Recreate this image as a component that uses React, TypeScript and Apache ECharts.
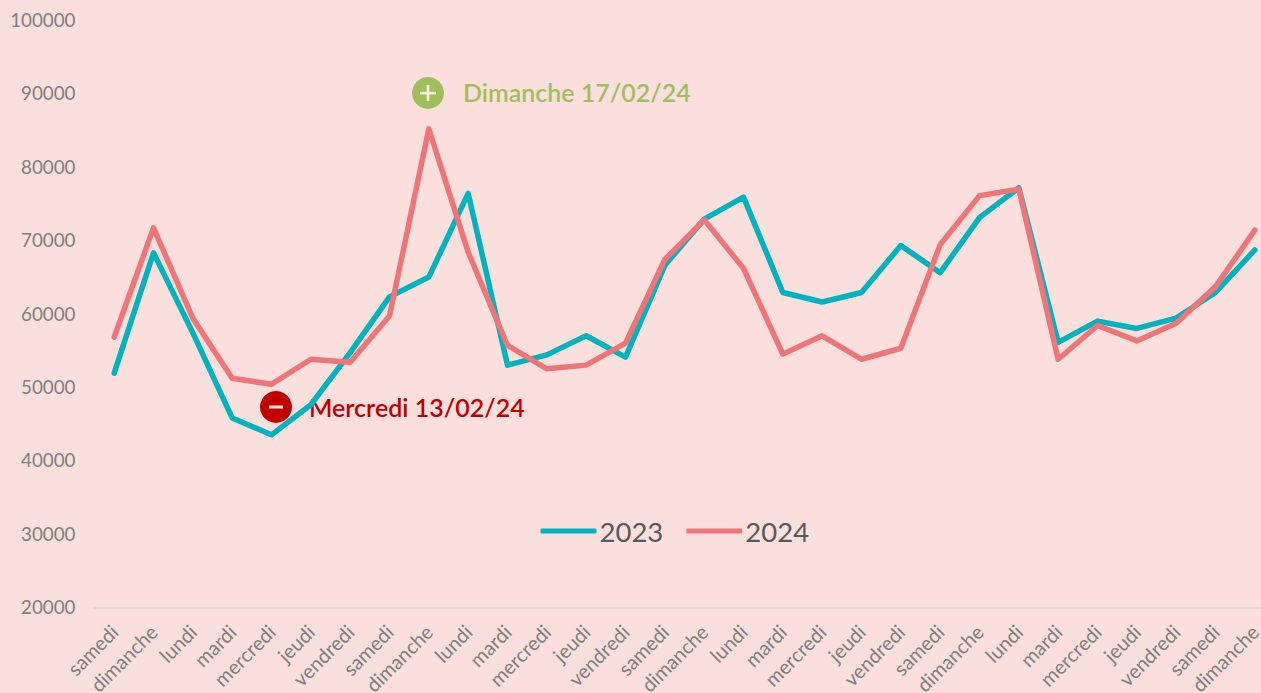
import React, { useEffect, useRef } from "react";
import * as echarts from "echarts";

const days = ["samedi","dimanche","lundi","mardi","mercredi","jeudi","vendredi","samedi","dimanche","lundi","mardi","mercredi","jeudi","vendredi","samedi","dimanche","lundi","mardi","mercredi","jeudi","vendredi","samedi","dimanche","lundi","mardi","mercredi","jeudi","vendredi","samedi","dimanche"];
const values2023 = [52000,68400,57500,45900,43600,47700,54800,62400,65100,76500,53100,54500,57100,54200,66700,73000,76000,63000,61700,63000,69400,65700,73200,77300,56200,59100,58100,59500,63000,68800];
const values2024 = [56900,71800,59500,51300,50500,53900,53500,59800,85300,68500,55800,52600,53100,56100,67500,72900,66300,54600,57100,53900,55400,69500,76200,77100,53900,58500,56400,58800,63800,71500];
const yMin = 20000;
const yMax = 100000;
const yStep = 10000;
const bestLabel = "Dimanche 17/02/24";
const worstLabel = "Mercredi 13/02/24";

const BG = "#FADFDC";
const TEAL = "#00B3C1";
const CORAL = "#F07578";
const GREEN = "#A0BF5C";
const RED = "#C00000";
const FONT = "Lato, 'Noto Sans', sans-serif";

export default function App() {
  const ref = useRef<HTMLDivElement>(null);
  useEffect(() => {
    document.body.style.margin = "0";
    document.body.style.background = BG;
    document.body.style.overflow = "hidden";
    const chart = echarts.init(ref.current!, undefined, { renderer: "svg" });
    const lineSeries = (name: string, data: number[], color: string) => ({
      name,
      type: "line",
      data,
      symbol: "none",
      smooth: false,
      clip: false,
      lineStyle: { color, width: 5.5, cap: "round", join: "round" },
      itemStyle: { color },
    });
    chart.setOption({
      animation: false,
      backgroundColor: BG,
      textStyle: { fontFamily: FONT },
      grid: { left: 94.5, top: 21, width: 1180, height: 587, containLabel: false, outerBoundsMode: "none" },
      legend: {
        left: 535.5,
        top: 512,
        itemWidth: 56,
        itemHeight: 5,
        itemGap: 23,
        icon: "roundRect",
        data: ["2023", "2024"],
        textStyle: { color: "#595959", fontSize: 27.5, fontFamily: FONT, padding: [0, 0, 14, -2] },
      },
      xAxis: {
        type: "category",
        data: days,
        boundaryGap: true,
        axisLine: { lineStyle: { color: "#DCDCDC", width: 2 } },
        axisTick: { show: false },
        axisLabel: { rotate: 45, interval: 0, color: "#808080", fontSize: 20, margin: 20, fontFamily: FONT },
      },
      yAxis: {
        type: "value",
        min: yMin,
        max: yMax,
        interval: yStep,
        splitLine: { show: false },
        axisLine: { show: false },
        axisTick: { show: false },
        axisLabel: { color: "#808080", fontSize: 18.8, margin: 19, verticalAlign: "bottom", lineHeight: 3, fontFamily: FONT, formatter: (v: number) => String(v) },
      },
      series: [lineSeries("2023", values2023, TEAL), lineSeries("2024", values2024, CORAL)],
      graphic: [
        { type: "circle", shape: { cx: 428, cy: 93, r: 16 }, style: { fill: GREEN } },
        { type: "rect", shape: { x: 420, y: 91.8, width: 16, height: 2.6 }, style: { fill: "#FBE9E6" } },
        { type: "rect", shape: { x: 426.7, y: 85, width: 2.6, height: 16 }, style: { fill: "#FBE9E6" } },
        { type: "text", x: 463, y: 92, style: { text: bestLabel, fill: GREEN, font: `600 25px ${FONT}`, textVerticalAlign: "middle" } },
        { type: "circle", shape: { cx: 276, cy: 407, r: 16 }, style: { fill: RED } },
        { type: "rect", shape: { x: 269, y: 405.5, width: 14, height: 3 }, style: { fill: "#FBE9E6" } },
        { type: "text", x: 309, y: 407, style: { text: worstLabel, fill: RED, font: `600 25px ${FONT}`, textVerticalAlign: "middle" } },
      ],
    });
    return () => chart.dispose();
  }, []);
  return <div ref={ref} style={{ width: 1261, height: 693 }} />;
}
